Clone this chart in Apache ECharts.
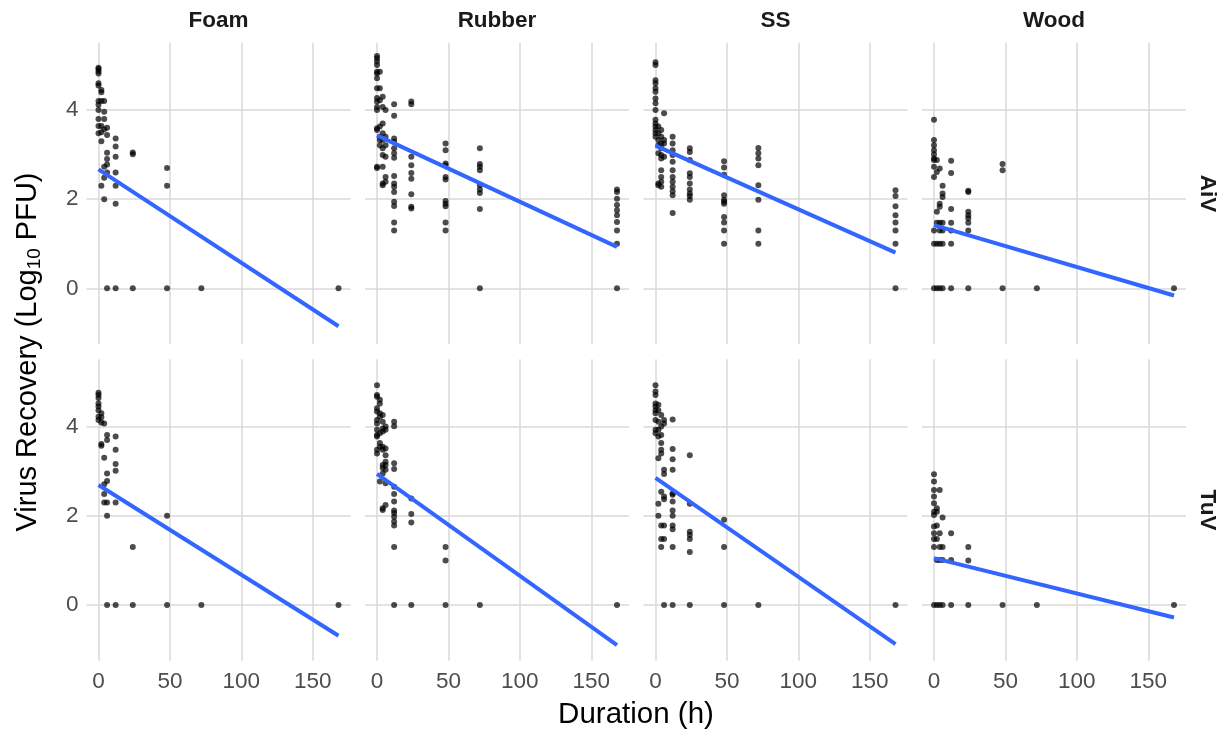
<!DOCTYPE html>
<html>
<head>
<meta charset="utf-8">
<title>Virus recovery by surface and duration</title>
<script src="https://cdn.jsdelivr.net/npm/echarts@6/dist/echarts.min.js"></script>
<style>
  html, body { margin: 0; padding: 0; background: #ffffff; }
  #chart { width: 1227px; height: 734px; }
</style>
</head>
<body>
<div id="chart"></div>
<script>
// Facets
const surfaces = ['Foam', 'Rubber', 'SS', 'Wood'];
const viruses = ['AiV', 'TuV'];

// Axis ticks
const xTicks = [0, 50, 100, 150];
const yTicks = [0, 2, 4];

// Observations: [duration (h), log10 PFU]
const foamAiV = [
  [0,4.95],[0,4.92],[0,4.87],[0,4.82],[0,4.6],[0,4.55],[0,4.2],[0,4.12],[0,4.0],[0,3.8],[0,3.64],[0,3.48],
  [2,4.45],[2,4.4],[2,4.2],[2,3.64],[2,3.5],[2,3.3],[2,2.3],
  [4,4.2],[4,3.96],[4,3.8],[4,3.57],[4,2.73],[4,2.48],[4,2.0],
  [6,3.6],[6,3.44],[6,3.04],[6,2.9],[6,2.78],[6,2.6],[6,0],
  [12,3.36],[12,3.18],[12,2.95],[12,2.6],[12,2.3],[12,1.9],[12,0],
  [24,3.05],[24,3.01],[24,0],
  [48,2.7],[48,2.3],[48,0],
  [72,0],[168,0]
];
const rubberAiV = [
  [0,5.21],[0,5.16],[0,5.09],[0,5.01],[0,4.86],[0,4.82],[0,4.71],[0,4.49],[0,4.27],[0,4.19],[0,4.07],[0,4.0],[0,3.59],[0,3.55],[0,2.73],[0,2.7],
  [2,4.86],[2,4.49],[2,4.22],[2,3.63],[2,3.4],[2,3.33],[2,3.21],
  [4,4.3],[4,4.07],[4,3.7],[4,3.48],[4,3.33],[4,3.14],[4,2.99],[4,2.73],[4,2.35],[4,2.31],
  [6,4.0],[6,3.4],[6,3.21],[6,2.95],[6,2.5],[6,2.39],
  [12,4.13],[12,3.87],[12,3.36],[12,3.29],[12,3.14],[12,3.03],[12,2.93],[12,2.52],[12,2.35],[12,2.28],[12,2.16],[12,1.94],[12,1.85],[12,1.48],[12,1.3],
  [24,4.19],[24,4.13],[24,2.95],[24,2.76],[24,2.59],[24,2.46],[24,2.11],[24,1.83],[24,1.79],
  [48,3.25],[48,3.1],[48,2.8],[48,2.76],[48,2.5],[48,2.44],[48,1.96],[48,1.9],[48,1.84],[48,1.48],[48,1.3],
  [72,3.14],[72,2.79],[72,2.73],[72,2.65],[72,2.31],[72,2.22],[72,2.14],[72,1.78],[72,0],
  [168,2.22],[168,2.16],[168,2.01],[168,1.87],[168,1.75],[168,1.64],[168,1.49],[168,1.3],[168,1.0],[168,0]
];
const ssAiV = [
  [0,5.07],[0,5.01],[0,4.67],[0,4.6],[0,4.49],[0,4.41],[0,4.26],[0,4.15],[0,4.0],[0,3.78],[0,3.7],[0,3.63],[0,3.55],[0,3.48],[0,3.4],
  [2,3.63],[2,3.48],[2,3.33],[2,3.21],[2,3.03],[2,2.35],[2,2.31],
  [4,3.55],[4,3.4],[4,3.25],[4,3.14],[4,2.99],[4,2.91],[4,2.65],[4,2.5],[4,2.39],[4,2.28],
  [6,3.93],[6,3.33],[6,3.25],[6,2.95],
  [12,3.4],[12,3.25],[12,3.1],[12,2.99],[12,2.84],[12,2.65],[12,2.5],[12,2.39],[12,2.28],[12,2.18],[12,2.09],[12,1.69],
  [24,3.14],[24,3.06],[24,2.88],[24,2.58],[24,2.5],[24,2.35],[24,2.22],[24,2.13],[24,2.07],[24,1.99],
  [48,2.85],[48,2.71],[48,2.55],[48,2.09],[48,1.99],[48,1.94],[48,1.9],[48,1.6],[48,1.48],[48,1.3],[48,1.0],
  [72,3.15],[72,3.03],[72,2.91],[72,2.76],[72,2.31],[72,1.99],[72,1.3],[72,1.0],
  [168,2.2],[168,2.07],[168,1.84],[168,1.64],[168,1.48],[168,1.3],[168,1.0],[168,0]
];
const woodAiV = [
  [0,3.78],[0,3.33],[0,3.21],[0,3.1],[0,3.01],[0,2.91],[0,2.88],[0,2.73],[0,2.5],[0,1.3],[0,1.0],[0,0],
  [2,2.88],[2,2.61],[2,1.72],[2,1.47],[2,1.0],[2,0],
  [4,2.69],[4,1.9],[4,1.83],[4,1.47],[4,1.3],[4,1.0],[4,0],
  [6,2.3],[6,2.13],[6,2.05],[6,1.47],[6,1.3],[6,1.0],[6,0],
  [12,2.86],[12,2.59],[12,1.78],[12,1.47],[12,1.3],[12,1.0],[12,0],
  [24,2.19],[24,2.16],[24,1.72],[24,1.64],[24,1.57],[24,1.47],[24,1.3],[24,0],
  [48,2.79],[48,2.65],[48,0],
  [72,0],[168,0]
];
const foamTuV = [
  [0,4.76],[0,4.71],[0,4.64],[0,4.52],[0,4.45],[0,4.37],[0,4.22],[0,4.15],
  [2,4.3],[2,4.21],[2,4.09],[2,3.61],[2,3.57],
  [4,4.07],[4,3.3],[4,2.71],[4,2.49],[4,2.3],
  [6,3.81],[6,3.7],[6,2.95],[6,2.78],[6,2.3],[6,2.0],[6,0],
  [12,3.78],[12,3.48],[12,3.16],[12,3.01],[12,2.3],[12,0],
  [24,1.3],[24,0],
  [48,2.0],[48,0],
  [72,0],[168,0]
];
const rubberTuV = [
  [0,4.93],[0,4.71],[0,4.67],[0,4.41],[0,4.34],[0,4.15],[0,4.07],[0,3.93],[0,3.81],[0,3.78],[0,3.48],[0,3.4],
  [2,4.6],[2,4.52],[2,4.3],[2,4.22],[2,3.85],[2,3.63],[2,3.55],[2,2.77],
  [4,4.26],[4,4.11],[4,3.96],[4,3.89],[4,3.55],[4,3.48],[4,3.14],[4,3.07],[4,2.95],[4,2.17],[4,2.13],
  [6,4.0],[6,3.93],[6,3.51],[6,3.36],[6,3.21],[6,3.14],[6,3.03],[6,2.73],[6,2.24],
  [12,4.11],[12,4.01],[12,3.18],[12,3.05],[12,2.65],[12,2.49],[12,2.32],[12,2.12],[12,2.06],[12,1.98],[12,1.87],[12,1.78],[12,1.3],[12,0],
  [24,2.39],[24,2.04],[24,1.85],[24,0],
  [48,1.3],[48,1.0],[48,0],
  [72,0],[168,0]
];
const ssTuV = [
  [0,4.93],[0,4.79],[0,4.71],[0,4.52],[0,4.45],[0,4.37],[0,4.3],[0,4.15],[0,3.93],[0,3.85],
  [2,4.49],[2,4.37],[2,4.11],[2,3.93],[2,3.78],[2,3.29],[2,2.27],[2,2.0],
  [4,4.26],[4,4.0],[4,3.81],[4,3.63],[4,3.48],[4,3.4],[4,2.54],[4,1.78],[4,1.48],[4,1.3],
  [6,4.15],[6,4.07],[6,3.03],[6,2.94],[6,2.43],[6,2.37],[6,1.78],[6,1.48],[6,0],
  [12,4.16],[12,3.5],[12,3.27],[12,3.03],[12,2.5],[12,2.47],[12,2.32],[12,2.12],[12,2.0],[12,1.78],[12,1.7],[12,1.3],[12,0],
  [24,3.36],[24,2.27],[24,1.64],[24,1.57],[24,1.48],[24,1.19],[24,0],
  [48,1.91],[48,1.3],[48,0],
  [72,0],[168,0]
];
const woodTuV = [
  [0,2.93],[0,2.77],[0,2.58],[0,2.43],[0,2.28],[0,2.09],[0,2.02],[0,1.76],[0,1.61],[0,1.48],[0,1.3],[0,0],
  [2,2.17],[2,2.09],[2,1.78],[2,1.48],[2,1.01],[2,0],
  [4,2.58],[4,1.61],[4,1.3],[4,1.01],[4,0],
  [6,1.96],[6,1.3],[6,1.01],[6,0],
  [12,1.61],[12,1.01],[12,0],
  [24,1.3],[24,1.0],[24,0],
  [48,0],[72,0],[168,0]
];

// Linear fits per facet: value at 0 h and at 168 h
const fitHours = [0, 168];
const fitStartAiV = [2.67, 3.43, 3.20, 1.42];
const fitEndAiV = [-0.85, 0.93, 0.80, -0.16];
const fitStartTuV = [2.69, 2.94, 2.85, 1.05];
const fitEndTuV = [-0.69, -0.90, -0.88, -0.28];

const pointsByVirus = [
  [foamAiV, rubberAiV, ssAiV, woodAiV],
  [foamTuV, rubberTuV, ssTuV, woodTuV]
];
const fitStarts = [fitStartAiV, fitStartTuV];
const fitEnds = [fitEndAiV, fitEndTuV];

// Panel geometry
const FONT = '"Liberation Sans", Arial, Helvetica, sans-serif';
const panelLeft = [86.5, 365, 643.5, 922];
const panelTop = [42.7, 359.3];
const panelW = 264;
const panelH = 301.4;
const gridColor = '#d9d9d9';

const grids = [], xAxes = [], yAxes = [], series = [];
let idx = 0;
for (let r = 0; r < viruses.length; r++) {
  for (let c = 0; c < surfaces.length; c++) {
    grids.push({
      left: panelLeft[c], top: panelTop[r], width: panelW, height: panelH,
      containLabel: false, outerBoundsMode: 'none'
    });
    xAxes.push({
      type: 'value', gridIndex: idx, min: -8.4, max: 176.4,
      axisLine: { show: false },
      axisTick: { show: false, customValues: xTicks },
      axisLabel: {
        show: r === viruses.length - 1, customValues: xTicks,
        color: '#4d4d4d', fontSize: 22.5, fontFamily: FONT, margin: 10
      },
      splitLine: { show: true, lineStyle: { color: gridColor, width: 1.5 } }
    });
    yAxes.push({
      type: 'value', gridIndex: idx, min: -1.25, max: 5.51,
      axisLine: { show: false },
      axisTick: { show: false, customValues: yTicks },
      axisLabel: {
        show: c === 0, customValues: yTicks,
        color: '#4d4d4d', fontSize: 22.5, fontFamily: FONT, margin: 8
      },
      splitLine: { show: true, lineStyle: { color: gridColor, width: 1.5 } }
    });
    series.push({
      type: 'scatter', xAxisIndex: idx, yAxisIndex: idx,
      data: pointsByVirus[r][c],
      symbolSize: 6,
      itemStyle: { color: 'rgba(0,0,0,0.88)' },
      silent: true, z: 2
    });
    series.push({
      type: 'line', xAxisIndex: idx, yAxisIndex: idx,
      data: [[fitHours[0], fitStarts[r][c]], [fitHours[1], fitEnds[r][c]]],
      showSymbol: false, symbol: 'none',
      lineStyle: { color: '#3366ff', width: 4 },
      silent: true, z: 3
    });
    idx++;
  }
}

const graphics = [];
surfaces.forEach((s, c) => {
  graphics.push({
    type: 'text', x: panelLeft[c] + panelW / 2, y: 21,
    style: { text: s, align: 'center', verticalAlign: 'middle',
      font: 'bold 22.5px ' + FONT, fill: '#1a1a1a' }
  });
});
viruses.forEach((v, r) => {
  graphics.push({
    type: 'text', x: 1207, y: panelTop[r] + panelH / 2, rotation: -Math.PI / 2,
    style: { text: v, align: 'center', verticalAlign: 'middle',
      font: 'bold 22.5px ' + FONT, fill: '#1a1a1a' }
  });
});
graphics.push({
  type: 'text', x: 636, y: 715,
  style: { text: 'Duration (h)', align: 'center', verticalAlign: 'middle',
    font: '29.5px ' + FONT, fill: '#000000' }
});
graphics.push({
  type: 'text', x: 28, y: 352, rotation: Math.PI / 2,
  style: {
    text: '{a|Virus Recovery (Log}{s|10}{a| PFU)}',
    align: 'center', verticalAlign: 'middle',
    rich: {
      a: { fontSize: 29, fontFamily: FONT, fill: '#000000', lineHeight: 34 },
      s: { fontSize: 19, fontFamily: FONT, fill: '#000000', lineHeight: 34, padding: [13, 0, 0, 0] }
    }
  }
});

const chart = echarts.init(document.getElementById('chart'), null, { renderer: 'canvas' });
chart.setOption({
  animation: false,
  backgroundColor: '#ffffff',
  textStyle: { fontFamily: FONT },
  grid: grids,
  xAxis: xAxes,
  yAxis: yAxes,
  series: series,
  graphic: graphics
});
</script>
</body>
</html>
